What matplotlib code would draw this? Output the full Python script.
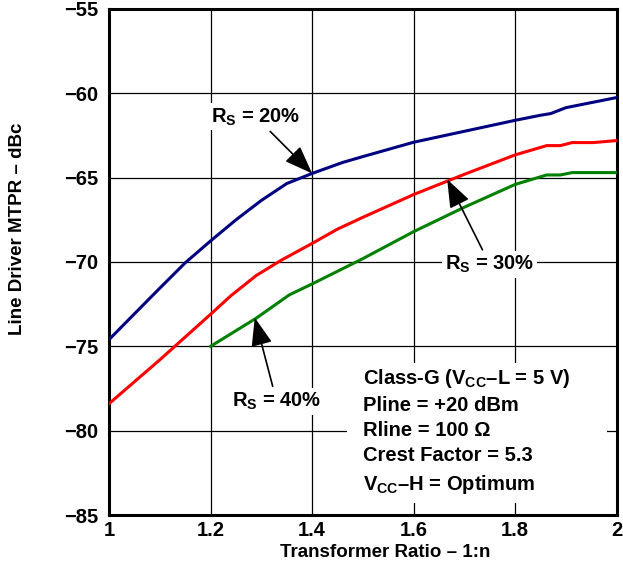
import matplotlib
matplotlib.use("Agg")
import matplotlib.pyplot as plt
from matplotlib.patches import Rectangle

plt.rcParams['font.family'] = ['Liberation Sans', 'DejaVu Sans']
plt.rcParams['font.weight'] = 'bold'
plt.rcParams['mathtext.fontset'] = 'custom'
plt.rcParams['mathtext.rm'] = 'Liberation Sans:bold'
plt.rcParams['mathtext.it'] = 'Liberation Sans:bold'
plt.rcParams['mathtext.bf'] = 'Liberation Sans:bold'

# MTPR vs transformer ratio for three source resistances
ratio_20 = [1.0, 1.1, 1.15, 1.2, 1.25, 1.3, 1.35, 1.4, 1.46, 1.5, 1.6, 1.7, 1.8,
            1.85, 1.87, 1.9, 1.95, 2.0]
mtpr_20 = [-74.6, -71.55, -70.05, -68.75, -67.5, -66.35, -65.35, -64.75, -64.1,
           -63.75, -62.9, -62.25, -61.6, -61.3, -61.2, -60.85, -60.55, -60.25]

ratio_30 = [1.0, 1.1, 1.2, 1.24, 1.29, 1.34, 1.4, 1.45, 1.5, 1.6, 1.7, 1.8,
            1.862, 1.889, 1.912, 1.954, 2.0]
mtpr_30 = [-78.4, -75.8, -73.1, -72.0, -70.8, -69.88, -68.9, -68.05, -67.35,
           -66.0, -64.8, -63.65, -63.1, -63.1, -62.92, -62.92, -62.8]

ratio_40 = [1.2, 1.29, 1.355, 1.4, 1.5, 1.6, 1.7, 1.8, 1.862, 1.889, 1.912, 2.0]
mtpr_40 = [-75.0, -73.33, -71.95, -71.3, -69.8, -68.2, -66.75, -65.4,
           -64.84, -64.84, -64.7, -64.7]

x_ticks = [1, 1.2, 1.4, 1.6, 1.8, 2]
y_ticks = [-85, -80, -75, -70, -65, -60, -55]
x_tick_labels = ['1', '1.2', '1.4', '1.6', '1.8', '2']

fig = plt.figure(figsize=(6.23, 5.79), dpi=100)
ax = fig.add_axes([0.175, 0.1105, 0.815, 0.874])

ax.plot(ratio_20, mtpr_20, color='#000080', lw=2.2, zorder=3)
ax.plot(ratio_30, mtpr_30, color='#ff0000', lw=2.2, zorder=3)
ax.plot(ratio_40, mtpr_40, color='#008000', lw=2.2, zorder=3)

ax.set_xlim(1, 2)
ax.set_ylim(-85, -55)
ax.set_xticks(x_ticks)
ax.set_xticklabels(x_tick_labels)
ax.set_yticks(y_ticks)
ax.tick_params(length=0, labelsize=14.5)
ax.tick_params(axis='x', pad=4)
ax.tick_params(axis='y', pad=8)
for lbl in ax.get_xticklabels() + ax.get_yticklabels():
    lbl.set_fontweight('bold')
ax.grid(True, color='black', lw=0.9)
for sp in ax.spines.values():
    sp.set_linewidth(2.2)

ax.set_xlabel('Transformer Ratio – 1:n', fontsize=13.5, fontweight='bold')
ax.set_ylabel('Line Driver MTPR – dBc', fontsize=13.5, fontweight='bold')
ax.xaxis.set_label_coords(0.543, -0.058)
ax.yaxis.set_label_coords(-0.163, 0.566)

label_box = dict(facecolor='white', edgecolor='none', pad=2)
arrow = dict(arrowstyle='-|>,head_length=1.2,head_width=0.45', color='black', lw=1.2,
             shrinkA=1, shrinkB=0)

ax.annotate('R$_S$ = 20%', xy=(1.4, -64.75), xytext=(1.289, -61.4),
            fontsize=14.5, fontweight='bold', ha='center', va='center',
            bbox=label_box, arrowprops=arrow, zorder=5)
ax.annotate('R$_S$ = 30%', xy=(1.666, -65.1), xytext=(1.75, -70.15),
            fontsize=14.5, fontweight='bold', ha='center', va='center',
            bbox=label_box, arrowprops=arrow, zorder=5)
ax.annotate('R$_S$ = 40%', xy=(1.287, -73.3), xytext=(1.33, -78.25),
            fontsize=14.5, fontweight='bold', ha='center', va='center',
            bbox=label_box, arrowprops=arrow, zorder=5)

# white panel behind the operating-condition notes
ax.add_patch(Rectangle((1.468, -84.28), 0.513, 8.3, facecolor='white',
                       edgecolor='none', zorder=4))
notes = ('Class-G (V$_{CC}$–L = 5 V)\n'
         'Pline = +20 dBm\n'
         'Rline = 100 Ω\n'
         'Crest Factor = 5.3\n'
         'V$_{CC}$–H = Optimum')
ax.text(1.5, -76.2, notes, fontsize=14.5, fontweight='bold', ha='left', va='top',
        linespacing=1.42, zorder=5)

fig.savefig('out.png', dpi=100)
